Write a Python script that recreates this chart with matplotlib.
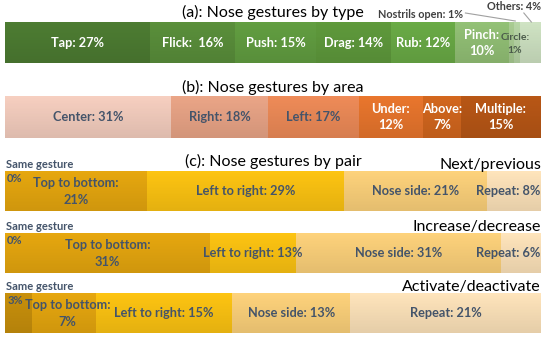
import numpy as np
import matplotlib.pyplot as plt

plt.rcParams['font.family'] = ['Lato', 'DejaVu Sans']

# (a) by type
type_labels = ['Tap: 27%', 'Flick:  16%', 'Push: 15%', 'Drag: 14%', 'Rub: 12%',
               'Pinch:\n10%', 'Circle:\n1%', '', '']
type_vals = [27, 16, 15, 14, 12, 10, 1, 1, 4]
type_colors = ['#4d7c32', '#5a8f3b', '#629e41', '#5f9a3c', '#6aab46',
               '#93c176', '#a9cc92', '#b8d6a6', '#cfe3c3']

# (b) by area
area_labels = ['Center: 31%', 'Right: 18%', 'Left: 17%', 'Under:\n12%', 'Above:\n7%', 'Multiple:\n15%']
area_vals = [31, 18, 17, 12, 7, 15]
area_colors = ['#f6cfc0', '#eaa587', '#ee8b58', '#e9762d', '#d3671e', '#b85716']
area_white = [False, False, False, True, True, True]

# (c) by pair
pair_names = ['Next/previous', 'Increase/decrease', 'Activate/deactivate']
pair_vals = [[0, 21, 29, 21, 8],
             [0, 31, 13, 31, 6],
             [3, 7, 15, 13, 21]]
pair_labels = [['0%', 'Top to bottom:\n21%', 'Left to right: 29%', 'Nose side: 21%', 'Repeat: 8%'],
               ['0%', 'Top to bottom:\n31%', 'Left to right: 13%', 'Nose side: 31%', 'Repeat: 6%'],
               ['3%', 'Top to bottom:\n7%', 'Left to right: 15%', 'Nose side: 13%', 'Repeat: 21%']]
pair_colors = ['#c8900c', '#e6a70f', '#fdc412', '#fdd27b', '#fee4bb']

dark = '#44546a'

fig = plt.figure(figsize=(5.5, 3.4), dpi=100)
ax = fig.add_axes([5 / 550, 0, 536 / 550, 1])
ax.set_xlim(0, 100)
ax.set_ylim(340, 0)
ax.axis('off')

shade = np.zeros((64, 1, 4))
shade[:, 0, 3] = np.linspace(0.0, 0.10, 64)


def draw_row(vals, colors, top, bottom):
    vals = np.asarray(vals, dtype=float)
    w = vals / vals.sum() * 100
    left = np.concatenate([[0], np.cumsum(w)[:-1]])
    ax.barh((top + bottom) / 2, w, left=left, height=bottom - top,
            color=colors, edgecolor='none')
    ax.imshow(shade, extent=(0, 100, bottom, top), aspect='auto', zorder=2)
    return left + w / 2


# (a)
ax.text(50, 12, '(a): Nose gestures by type', ha='center', va='center', fontsize=11.5)
cx = draw_row(type_vals, type_colors, 22, 63)
for i, lab in enumerate(type_labels):
    if not lab:
        continue
    if i == 6:
        ax.text(cx[i] + 0.6, 44, lab, ha='center', va='center', fontsize=7.5,
                fontweight='bold', color='#4a5a4a', linespacing=1.5, zorder=3)
    else:
        ax.text(cx[i], 43, lab, ha='center', va='center', fontsize=9.2,
                fontweight='bold', color='white', linespacing=1.4, zorder=3)
ax.text(85.4, 14, 'Nostrils open: 1%', ha='right', va='center', fontsize=7.8,
        fontweight='bold', color='#404040')
ax.plot([85.9, cx[7] - 0.3], [13, 21], color='#a0a0a0', lw=0.8)
ax.text(100, 7, 'Others: 4%', ha='right', va='center', fontsize=7.8,
        fontweight='bold', color='#404040')
ax.plot([cx[8] - 1.2, cx[8] + 0.2], [13, 22], color='#a0a0a0', lw=0.8)

# (b)
ax.text(50, 87, '(b): Nose gestures by area', ha='center', va='center', fontsize=11.5)
cx = draw_row(area_vals, area_colors, 96, 138)
for i, lab in enumerate(area_labels):
    ax.text(cx[i], 117, lab, ha='center', va='center', fontsize=9.2,
            fontweight='bold', color='white' if area_white[i] else dark,
            linespacing=1.4, zorder=3)

# (c)
ax.text(50, 161, '(c): Nose gestures by pair', ha='center', va='center', fontsize=11.5)
tops = [171, 233, 293]
for r in range(3):
    top, bottom = tops[r], tops[r] + 40
    mid = (top + bottom) / 2
    cx = draw_row(pair_vals[r], pair_colors, top, bottom)
    ax.text(100, top - 6, pair_names[r], ha='right', va='center', fontsize=11.5)
    ax.text(0.2, top - 6, 'Same gesture', ha='left', va='center', fontsize=8,
            fontweight='bold', color=dark)
    ax.text(0.3 if r < 2 else 0.4, top + 8, pair_labels[r][0], ha='left', va='center',
            fontsize=8, fontweight='bold', color=dark, zorder=3)
    for i in range(1, 5):
        if i == 4 and r < 2:
            ax.text(99.9, mid, pair_labels[r][i], ha='right', va='center', fontsize=9.2,
                    fontweight='bold', color=dark, zorder=3)
            continue
        ax.text(cx[i] + (0.6 if r == 2 and i == 1 else 0), mid + (0.5 if i == 1 else 0),
                pair_labels[r][i], ha='center', va='center', fontsize=9.2,
                fontweight='bold', color=dark, linespacing=1.45, zorder=3)

fig.savefig('out.png', dpi=100)
